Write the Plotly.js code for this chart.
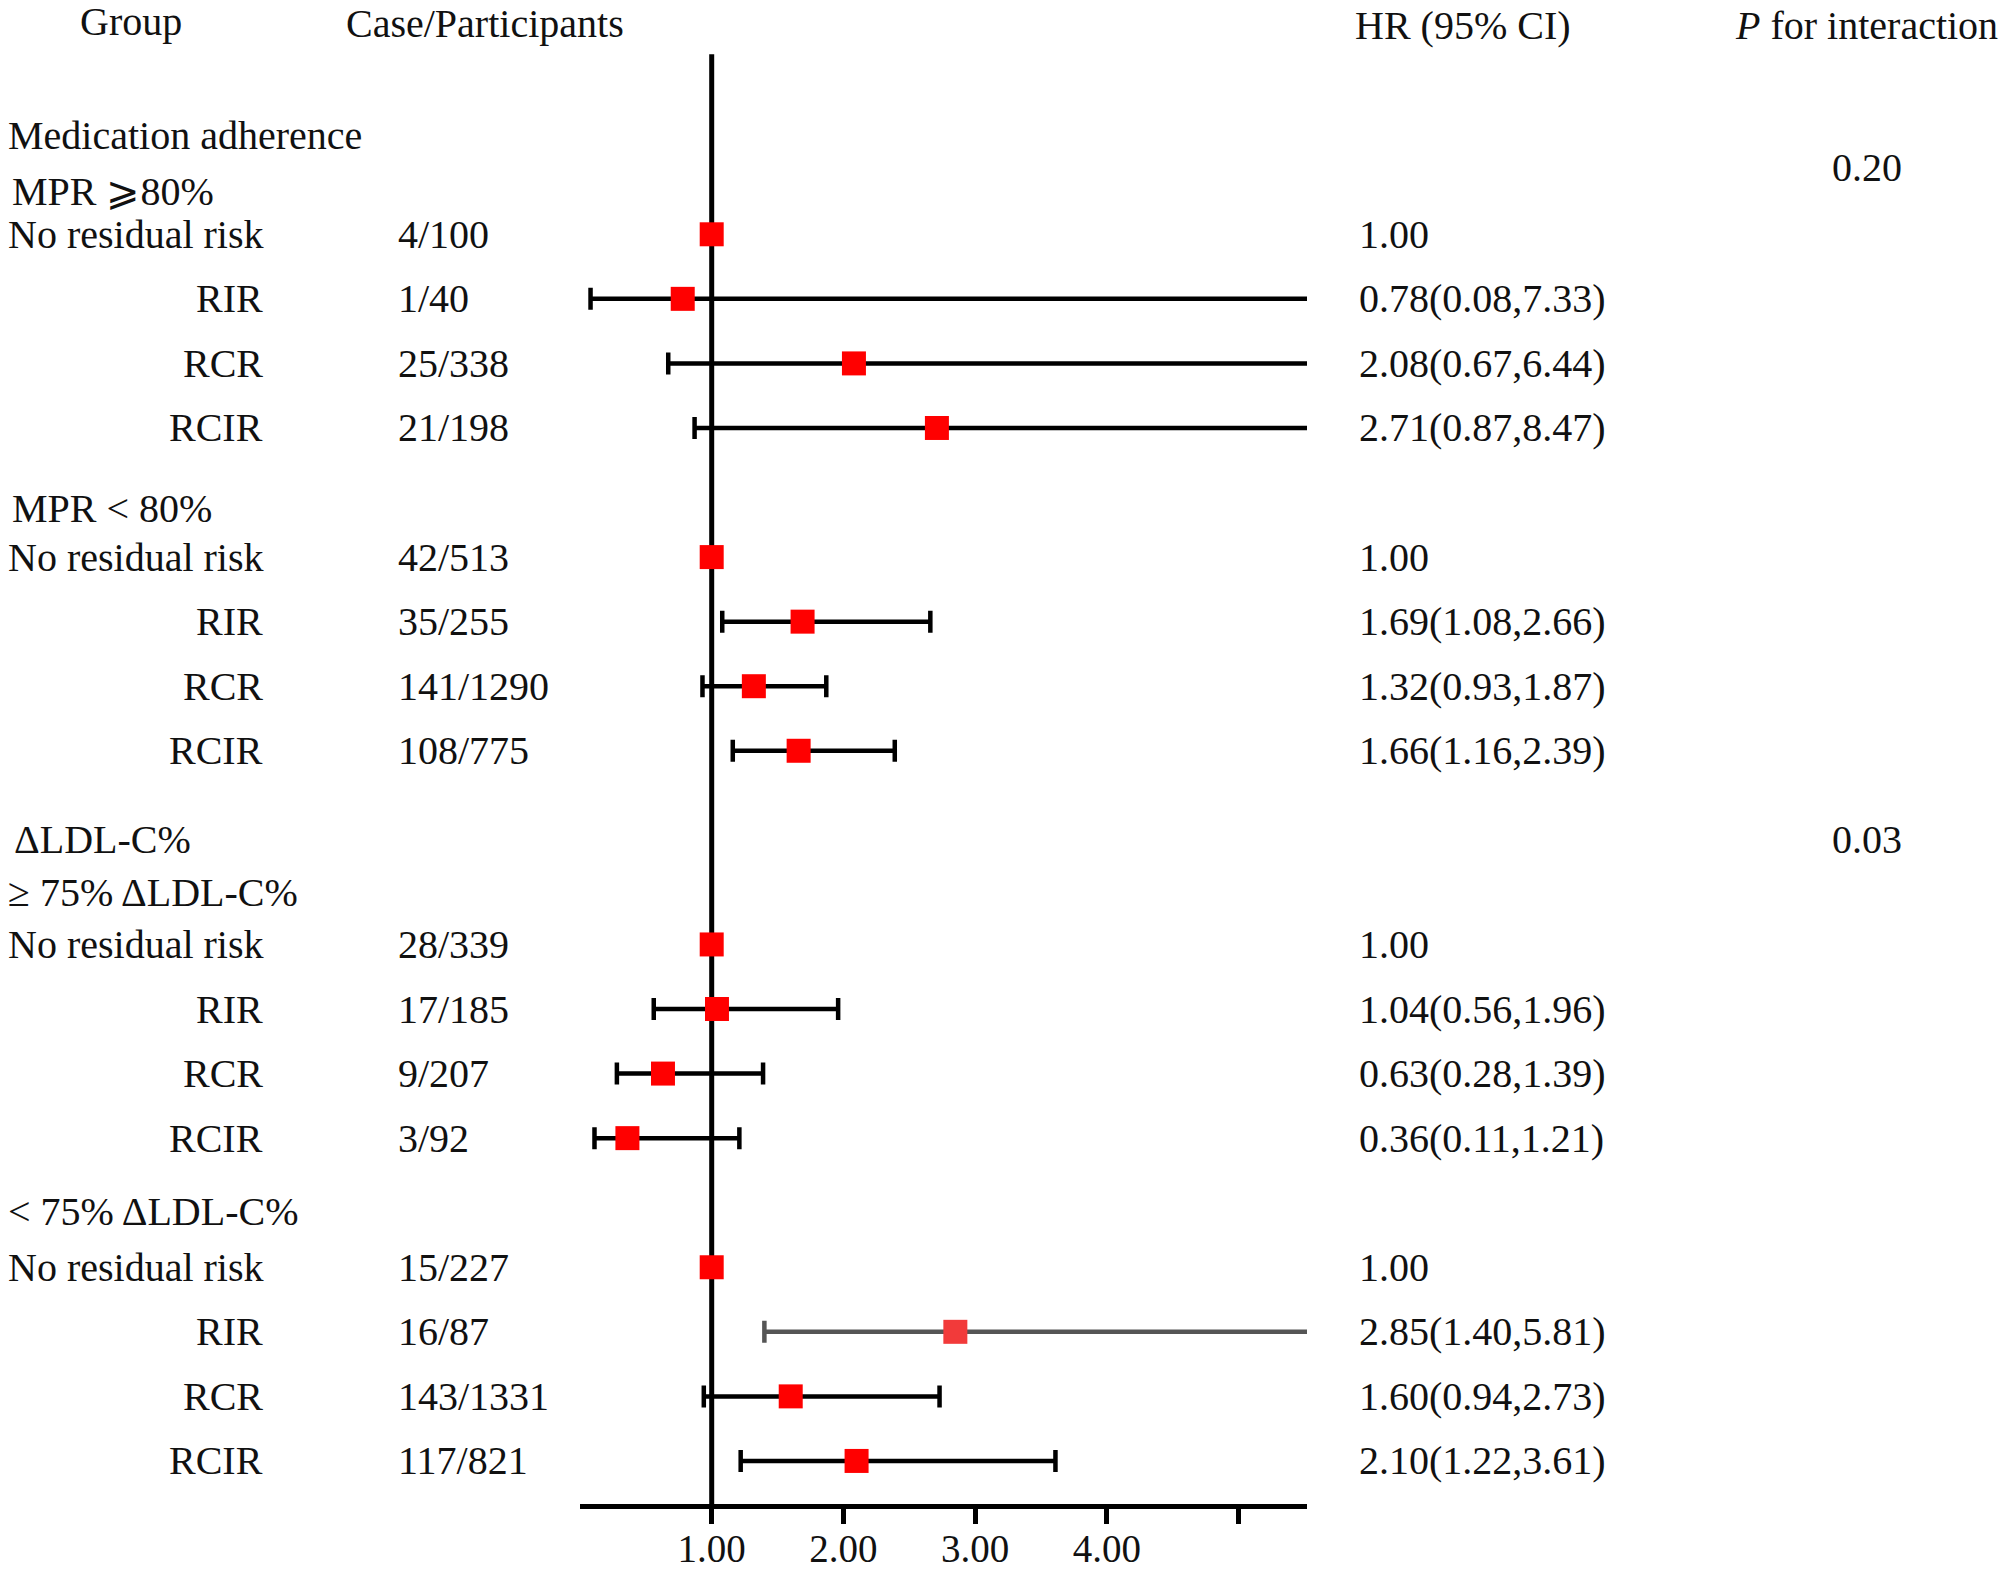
<!DOCTYPE html>
<html>
<head>
<meta charset="utf-8">
<script src="https://cdn.plot.ly/plotly-3.0.1.min.js"></script>
<style>
  html, body { margin: 0; padding: 0; background: #fff; }
  #chart { width: 2008px; height: 1571px; }
</style>
</head>
<body>
<div id="chart"></div>
<script>
// ---------------- DATA ----------------
const categoryTitles = ['Medication adherence', 'ΔLDL-C%'];
const subgroupTitles = ['MPR \u2A7E80%', 'MPR < 80%', '\u2265 75% ΔLDL-C%', '< 75% ΔLDL-C%'];
const pInteraction = ['0.20', '0.03'];
const riskGroups = ['No residual risk', 'RIR', 'RCR', 'RCIR'];

const casesParticipants = [
  '4/100', '1/40', '25/338', '21/198',
  '42/513', '35/255', '141/1290', '108/775',
  '28/339', '17/185', '9/207', '3/92',
  '15/227', '16/87', '143/1331', '117/821'
];
const hr = [
  1.00, 0.78, 2.08, 2.71,
  1.00, 1.69, 1.32, 1.66,
  1.00, 1.04, 0.63, 0.36,
  1.00, 2.85, 1.60, 2.10
];
const ciLow = [
  null, 0.08, 0.67, 0.87,
  null, 1.08, 0.93, 1.16,
  null, 0.56, 0.28, 0.11,
  null, 1.40, 0.94, 1.22
];
const ciHigh = [
  null, 7.33, 6.44, 8.47,
  null, 2.66, 1.87, 2.39,
  null, 1.96, 1.39, 1.21,
  null, 5.81, 2.73, 3.61
];
const xTickValues = [1, 2, 3, 4, 5];
const xTickLabels = ['1.00', '2.00', '3.00', '4.00', ''];

// ---------------- LAYOUT CONFIG ----------------
const W = 2008, H = 1571;
const plotL = 580, plotR = 1307, plotB = 1504;
const xMax = 5.52;
const yTop = -3.629, yBottom = 19.667;
const subgroupStartRow = [0, 5, 11, 16];
const categoryTitleRow = [-1.53, 9.38];
const subgroupTitleRow = [-0.67, 4.25, 10.2, 15.14];
const pRow = [-1.03, 9.38];
const refLineTopRow = -2.79;
const headerRow = -3.36;
const fadedIndex = 13;

const FONT = 'Liberation Serif, Times New Roman, serif';
const FS = 40;
const TXT = '#111111';
const px2paper = p => (p - plotL) / (plotR - plotL);

// rows
const rowPos = [];
subgroupStartRow.forEach(s => riskGroups.forEach((g, k) => rowPos.push(s + k)));
const groupLabels = [];
subgroupStartRow.forEach(() => riskGroups.forEach(g => groupLabels.push(g)));

const errPlus = hr.map((h, i) => ciHigh[i] == null ? NaN : ciHigh[i] - h);
const errMinus = hr.map((h, i) => ciLow[i] == null ? NaN : h - ciLow[i]);
const hrText = hr.map((h, i) => ciLow[i] == null ? h.toFixed(2)
  : h.toFixed(2) + '(' + ciLow[i].toFixed(2) + ',' + ciHigh[i].toFixed(2) + ')');

function subset(arr, keep) { return arr.filter((_, i) => keep(i)); }
const isMain = i => i !== fadedIndex;
const isFaded = i => i === fadedIndex;

function makeTrace(keep, markerColor, lineColor) {
  return {
    type: 'scatter', mode: 'markers',
    x: subset(hr, keep), y: subset(rowPos, keep),
    marker: { symbol: 'square', size: 24, color: markerColor, line: { width: 0 } },
    error_x: {
      type: 'data', symmetric: false,
      array: subset(errPlus, keep), arrayminus: subset(errMinus, keep),
      color: lineColor, thickness: 4.5, width: 11
    },
    hoverinfo: 'skip', showlegend: false, cliponaxis: true
  };
}

const traces = [
  makeTrace(isMain, '#ff0000', '#000000'),
  makeTrace(isFaded, '#f23a3a', '#555555')
];

const annotations = [];
function addText(text, pxX, row, anchor, extra) {
  annotations.push(Object.assign({
    text: text, xref: 'paper', yref: 'y', x: px2paper(pxX), y: row,
    xanchor: anchor, yanchor: 'middle', showarrow: false,
    font: { family: FONT, size: FS, color: TXT }
  }, extra || {}));
}

// headers
addText('Group', 131, headerRow + 0.07, 'center');
addText('Case/Participants', 344, headerRow + 0.1, 'left');
addText('HR (95% CI)', 1353, headerRow + 0.12, 'left');
addText('<i>P</i> for interaction', 1733, headerRow + 0.12, 'left');

// category & subgroup titles
categoryTitles.forEach((t, i) => addText(t, i === 0 ? 6 : 12, categoryTitleRow[i], 'left'));
subgroupTitles.forEach((t, i) => addText(t, i < 2 ? 10 : 6, subgroupTitleRow[i], 'left'));
pInteraction.forEach((t, i) => addText(t, 1867, pRow[i], 'center'));

// rows
rowPos.forEach((r, i) => {
  const g = groupLabels[i];
  if (g === riskGroups[0]) addText(g, 6, r, 'left');
  else addText(g, 265, r, 'right');
  addText(casesParticipants[i], 396, r, 'left');
  addText(hrText[i], 1357, r, 'left');
});

const layout = {
  width: W, height: H,
  margin: { l: plotL, r: W - plotR, t: 0, b: H - plotB, pad: 0 },
  paper_bgcolor: '#ffffff', plot_bgcolor: '#ffffff',
  showlegend: false,
  xaxis: {
    range: [0, xMax], showgrid: false, zeroline: false,
    showline: true, linecolor: '#000000', linewidth: 5,
    ticks: 'outside', ticklen: 15, tickwidth: 5, tickcolor: '#000000',
    tickmode: 'array', tickvals: xTickValues, ticktext: xTickLabels,
    tickfont: { family: FONT, size: 39, color: TXT },
    ticklabelstandoff: -9,
    fixedrange: true
  },
  yaxis: {
    range: [yBottom, yTop], showgrid: false, zeroline: false,
    showline: false, showticklabels: false, ticks: '', fixedrange: true
  },
  shapes: [{
    type: 'line', xref: 'x', yref: 'y', x0: 1, x1: 1, y0: refLineTopRow, y1: yBottom,
    line: { color: '#000000', width: 5 }, layer: 'below'
  }],
  annotations: annotations
};

Plotly.newPlot('chart', traces, layout, { displayModeBar: false, staticPlot: true });
</script>
</body>
</html>
